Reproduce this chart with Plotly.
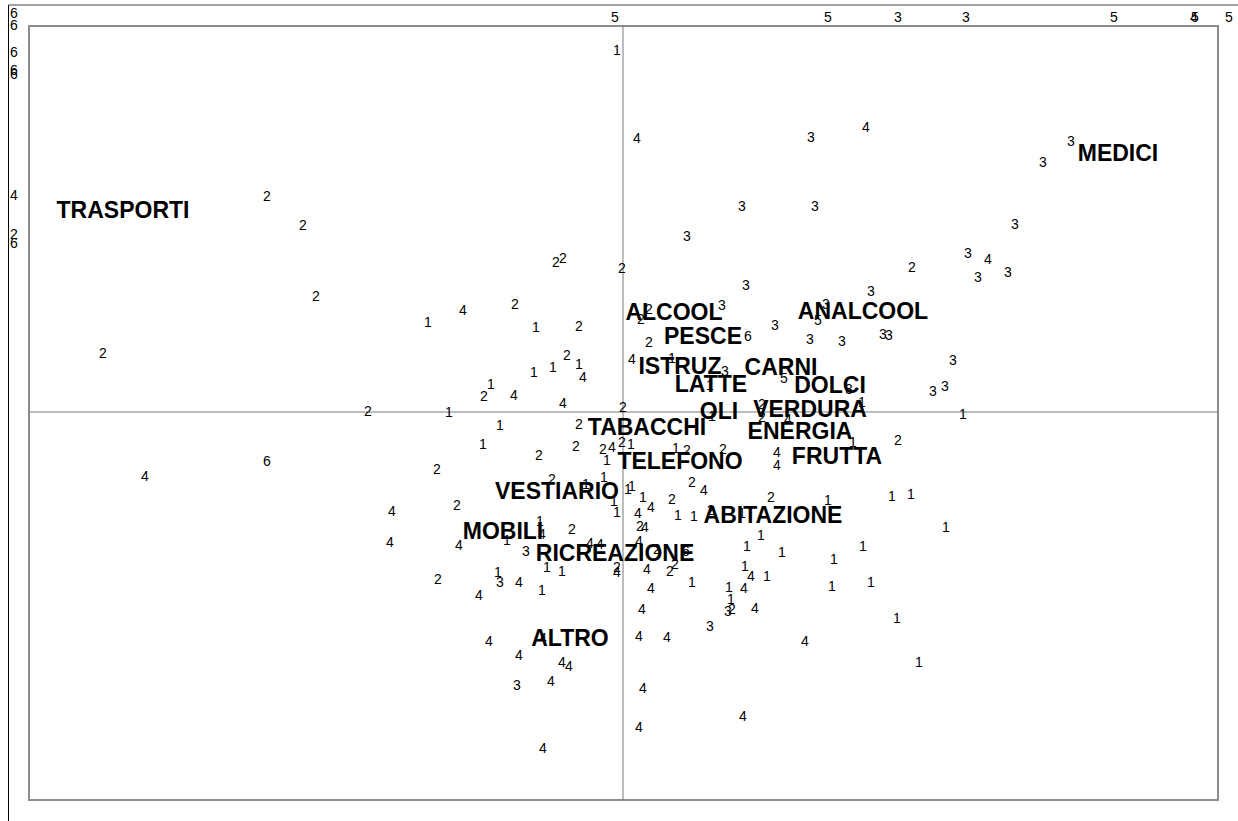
import plotly.graph_objects as go

# Cluster code of each statistical unit (drawn as its label)
pt_group = [
    "5", "5", "3", "3", "5", "4", "5", "5",
    "6", "6", "6", "6", "6", "4", "2", "6",
    "1", "4", "3", "4", "3", "3", "2", "3", "3", "2", "3", "3", "3", "4",
    "2", "2", "2", "2", "3", "3", "3", "3", "2", "2", "3", "3", "4", "2",
    "2", "5", "1", "1", "2", "3", "6", "3", "3", "3", "3", "2", "2", "2",
    "4", "1", "3", "1", "1", "1", "3", "4", "5", "1", "2", "4", "3", "3",
    "3", "4", "2", "1", "2", "1", "2", "1", "2", "4", "1", "1", "2", "2",
    "1", "1", "2", "2", "4", "2", "1", "1", "2", "2", "4", "4", "2", "1",
    "6", "2", "4", "2", "1", "1", "2", "4", "1", "1", "1", "1", "2", "1",
    "1", "4", "2", "1", "1", "2", "4", "2", "1", "1", "1", "4", "2", "4",
    "1", "4", "1", "2", "1", "1", "4", "4", "4", "4", "4", "1", "1", "3",
    "1", "1", "1", "1", "1", "2", "4", "4", "2", "2", "1", "3", "4", "2",
    "4", "1", "1", "1", "4", "1", "1", "4", "4", "1", "1", "3", "2", "4",
    "4", "1", "3", "4", "4", "4", "4", "4", "4", "4", "4", "1", "3", "4",
    "4", "4", "4", "4", "1", "2", "6",
]
pt_x = [
    -0.08, 2.05, 2.75, 3.43, 4.91, 5.71, 5.72, 6.06,
    -6.09, -6.09, -6.09, -6.09, -6.09, -6.09, -6.09, -6.09,
    -0.06, 0.14, 1.88, 2.43, 4.48, 4.20, -3.56, 1.19, 1.92, -3.20, 3.92, 0.64, 3.45, 3.65,
    -0.67, -0.60, -0.01, 2.89, 3.55, 3.85, 1.23, 2.48, -3.07, -1.08, 2.03, 0.99, -1.60, 0.26,
    0.18, 1.95, -1.95, -0.87, -0.44, 1.52, 1.25, 1.87, 2.19, 2.60, 2.66, 0.26, -5.20, -0.56,
    0.09, 0.49, 3.30, -0.44, -0.70, -0.89, 1.02, -0.40, 1.61, -1.32, -1.39, -1.09, 2.26, 3.10,
    3.22, -0.60, 1.39, 2.39, -2.55, -1.74, 0.00, 0.89, 1.39, 1.65, 3.40, -1.23, -0.44, 2.75,
    2.30, -1.40, -0.47, -0.20, -0.11, -0.01, 0.08, 0.53, 0.64, 1.00, 1.54, 1.54, -0.84, -0.16,
    -3.56, -1.86, -4.78, -0.71, -0.19, -0.37, 0.69, 0.81, 0.05, 0.09, 2.69, 2.88, 1.48, 2.05,
    0.20, 0.28, 0.49, -0.09, -0.06, -1.66, -2.31, 0.88, 1.19, 0.55, 0.71, 0.15, 0.17, 0.22,
    -0.83, -0.81, -1.16, -0.51, 3.23, 1.38, -2.33, -1.64, -0.33, -0.23, 0.16, 1.24, 2.40, -0.97,
    1.59, 2.11, 1.22, -0.76, -0.61, -0.06, -0.06, 0.24, 0.47, 0.52, -1.25, -1.23, -1.04, -1.85,
    1.28, 1.44, 0.69, 1.06, 1.21, 2.09, 2.48, 0.28, -1.44, -0.81, 1.08, 1.05, 1.09,
    1.32, 0.19, 2.74, 0.87, 0.16, 0.44, -0.80, -1.34, 1.82, -1.04, -0.61, -0.54, 2.96, -1.06,
    -0.72, 0.20, 1.20, 0.16, -0.80, 0.87, 0.34, 0.63,
]
pt_y = [
    3.94, 3.94, 3.94, 3.94, 3.94, 3.94, 3.94, 3.94,
    3.98, 3.86, 3.59, 3.41, 3.37, 2.16, 1.77, 1.68,
    3.61, 2.73, 2.74, 2.84, 2.70, 2.49, 2.15, 2.05, 2.05, 1.86, 1.87, 1.75, 1.58, 1.52,
    1.49, 1.53, 1.43, 1.44, 1.34, 1.39, 1.26, 1.20, 1.15, 1.07, 1.07, 1.06, 1.01, 1.02,
    0.92, 0.91, 0.89, 0.84, 0.85, 0.86, 0.75, 0.72, 0.70, 0.77, 0.76, 0.69, 0.58, 0.56,
    0.52, 0.53, 0.51, 0.47, 0.44, 0.39, 0.40, 0.34, 0.33, 0.27, 0.15, 0.16, 0.22, 0.20,
    0.25, 0.08, 0.07, 0.09, 0.00, -0.01, 0.04, -0.05, -0.06, -0.08, -0.03, -0.14, -0.13, -0.29,
    -0.31, -0.33, -0.35, -0.38, -0.36, -0.31, -0.33, -0.37, -0.39, -0.38, -0.41, -0.54, -0.44, -0.49,
    -0.50, -0.58, -0.65, -0.68, -0.66, -0.73, -0.71, -0.79, -0.78, -0.75, -0.85, -0.83, -0.86, -0.89,
    -0.86, -0.96, -0.88, -0.90, -1.01, -0.94, -1.00, -0.99, -1.02, -1.04, -1.05, -1.02, -1.15, -1.16,
    -1.10, -1.23, -1.29, -1.18, -1.16, -1.24, -1.31, -1.34, -1.32, -1.33, -1.30, -1.35, -1.35, -1.40,
    -1.41, -1.48, -1.55, -1.56, -1.60, -1.56, -1.61, -1.58, -1.60, -1.53, -1.61, -1.71, -1.71, -1.68,
    -1.65, -1.65, -1.71, -1.76, -1.77, -1.75, -1.71, -1.77, -1.84, -1.79, -1.88, -2.00, -1.98,
    -1.97, -1.98, -2.07, -2.15, -2.25, -2.26, -2.27, -2.30, -2.30, -2.44, -2.51, -2.55, -2.51, -2.74,
    -2.70, -2.77, -3.05, -3.16, -3.37, 0.26, -1.38, -1.40,
]

# Expenditure categories (variables)
cat_names = ["TRASPORTI", "MEDICI", "ALCOOL", "ANALCOOL", "PESCE", "ISTRUZ", "CARNI",
             "LATTE", "DOLCI", "OLI", "VERDURA", "TABACCHI", "ENERGIA", "TELEFONO",
             "FRUTTA", "VESTIARIO", "ABITAZIONE", "MOBILI", "RICREAZIONE", "ALTRO"]
cat_x = [-5.00, 4.95, 0.51, 2.40, 0.80, 0.57, 1.58, 0.88, 2.07, 0.96, 1.87, 0.24,
         1.77, 0.57, 2.14, -0.66, 1.50, -1.20, -0.08, -0.53]
cat_y = [2.00, 2.57, 0.98, 0.99, 0.74, 0.44, 0.43, 0.26, 0.25, -0.01, 0.01, -0.17,
         -0.21, -0.51, -0.46, -0.81, -1.05, -1.21, -1.43, -2.28]

# Plot window (frame) and full canvas extent, in data units
frame_x = [-5.94, 5.95]
frame_y = [-3.88, 3.86]
canvas_x = [-6.23, 6.15]
canvas_y = [-4.09, 4.12]
outer_left_x = -6.145
outer_top_y = 4.07

FONT = "Liberation Sans, Arial, sans-serif"

fig = go.Figure()
fig.add_trace(go.Scatter(
    x=pt_x, y=pt_y, text=pt_group, mode="text",
    textposition="middle center",
    textfont=dict(family=FONT, size=14, color="#000000"),
    cliponaxis=False, hoverinfo="skip", showlegend=False,
))
fig.add_trace(go.Scatter(
    x=cat_x, y=cat_y, text=["<b>%s</b>" % n for n in cat_names], mode="text",
    textposition="middle center",
    textfont=dict(family=FONT, size=23, color="#000000"),
    cliponaxis=False, hoverinfo="skip", showlegend=False,
))

axis_common = dict(showgrid=False, showticklabels=False, ticks="",
                   zeroline=False, showline=False, fixedrange=True)
fig.update_xaxes(range=canvas_x, **axis_common)
fig.update_yaxes(range=canvas_y, **axis_common)

# frame of the plot window
fig.add_shape(type="rect", x0=frame_x[0], x1=frame_x[1], y0=frame_y[0], y1=frame_y[1],
              line=dict(color="#8c8c8c", width=2), layer="below")
# axes through the origin
fig.add_shape(type="line", x0=0, x1=0, y0=frame_y[0], y1=frame_y[1],
              line=dict(color="#7a7a7a", width=1), layer="below")
fig.add_shape(type="line", x0=frame_x[0], x1=frame_x[1], y0=0, y1=0,
              line=dict(color="#7a7a7a", width=1), layer="below")
# enclosing box edges (left and top)
fig.add_shape(type="line", x0=outer_left_x, x1=outer_left_x, y0=outer_top_y, y1=canvas_y[0],
              line=dict(color="#000000", width=1), layer="below")
fig.add_shape(type="line", x0=outer_left_x, x1=canvas_x[1], y0=outer_top_y, y1=outer_top_y,
              line=dict(color="#444444", width=1), layer="below")

fig.update_layout(
    width=1238, height=821,
    margin=dict(l=0, r=0, t=0, b=0),
    paper_bgcolor="white", plot_bgcolor="white",
    showlegend=False,
)

fig.write_html("out.html", config={"displayModeBar": False},
               post_script="document.body.style.margin='0px';")
